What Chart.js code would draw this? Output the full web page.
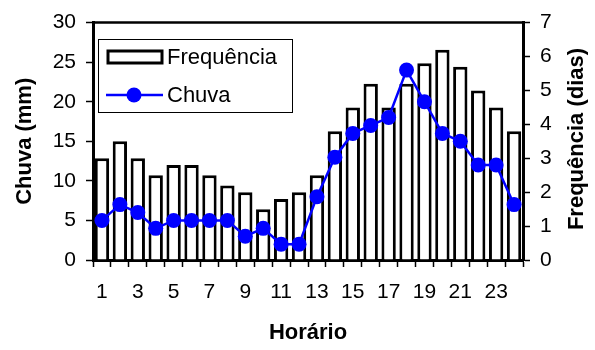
<!DOCTYPE html>
<html>
<head>
<meta charset="utf-8">
<script src="https://cdn.jsdelivr.net/npm/chart.js@4/dist/chart.umd.min.js"></script>
<style>
  body { margin: 0; background: #fff; }
  #wrap { width: 595px; height: 350px; }
</style>
</head>
<body>
<div id="wrap"><canvas id="chuvaChart"></canvas></div>
<script>
// dados
const horarios = ['1','2','3','4','5','6','7','8','9','10','11','12','13','14','15','16','17','18','19','20','21','22','23','24'];
const frequenciaDias = [3.0, 3.5, 3.0, 2.5, 2.8, 2.8, 2.5, 2.2, 2.0, 1.5, 1.8, 2.0, 2.5, 3.8, 4.5, 5.2, 4.5, 5.2, 5.8, 6.2, 5.7, 5.0, 4.5, 3.8];
const chuvaMm = [5, 7, 6, 4, 5, 5, 5, 5, 3, 4, 2, 2, 8, 13, 16, 17, 18, 24, 20, 16, 15, 12, 12, 7];

const FONT = "'Liberation Sans', Arial, sans-serif";
Chart.defaults.font.family = FONT;
Chart.defaults.font.size = 21;
Chart.defaults.color = '#000';

// moldura do gráfico, legenda e título do eixo direito
const framePlugin = {
    id: 'frame',
    afterDatasetsDraw(chart) {
        const { ctx, chartArea: a } = chart;
        ctx.save();
        ctx.strokeStyle = '#000';
        ctx.lineWidth = 2.5;
        ctx.beginPath();
        ctx.moveTo(a.left, a.top);
        ctx.lineTo(a.right, a.top);
        ctx.stroke();
        ctx.restore();
    },
    afterDraw(chart) {
        const { ctx } = chart;
        const bar = chart.data.datasets[0];
        const line = chart.data.datasets[1];
        ctx.save();
        // caixa da legenda
        ctx.fillStyle = '#fff';
        ctx.fillRect(98, 39, 194, 73);
        ctx.strokeStyle = '#000';
        ctx.lineWidth = 1;
        ctx.strokeRect(98.5, 39.5, 194, 73);

        ctx.lineWidth = 3;
        ctx.strokeStyle = bar.borderColor;
        ctx.fillStyle = bar.backgroundColor;
        ctx.fillRect(108, 51, 54, 12);
        ctx.strokeRect(108, 51, 54, 12);

        ctx.strokeStyle = line.borderColor;
        ctx.lineWidth = 2.5;
        ctx.beginPath();
        ctx.moveTo(106, 95);
        ctx.lineTo(163, 95);
        ctx.stroke();
        ctx.fillStyle = line.pointBackgroundColor;
        ctx.beginPath();
        ctx.arc(134, 95, 7.5, 0, Math.PI * 2);
        ctx.fill();

        ctx.fillStyle = '#000';
        ctx.font = '22px ' + FONT;
        ctx.textBaseline = 'middle';
        ctx.textAlign = 'left';
        ctx.fillText(bar.label, 167, 58);
        ctx.fillText(line.label, 167, 96);

        // título do eixo direito, lido de baixo para cima
        ctx.font = 'bold 22px ' + FONT;
        ctx.textAlign = 'center';
        ctx.translate(577, 139);
        ctx.rotate(-Math.PI / 2);
        ctx.fillText('Frequência (dias)', 0, 0);
        ctx.restore();
    }
};

const ctx = document.getElementById('chuvaChart').getContext('2d');
new Chart(ctx, {
    data: {
        labels: horarios,
        datasets: [{
            type: 'bar',
            label: 'Frequência',
            data: frequenciaDias,
            yAxisID: 'y1',
            backgroundColor: '#fff',
            borderColor: '#000',
            borderWidth: 3,
            barPercentage: 0.8,
            categoryPercentage: 1,
            order: 2
        }, {
            type: 'line',
            label: 'Chuva',
            data: chuvaMm,
            yAxisID: 'y',
            borderColor: '#0000ff',
            borderWidth: 2.5,
            pointBackgroundColor: '#0000ff',
            pointBorderColor: '#0000ff',
            pointRadius: 7.5,
            pointBorderWidth: 0,
            tension: 0,
            order: 1
        }]
    },
    options: {
        responsive: true,
        maintainAspectRatio: false,
        animation: false,
        layout: { padding: { top: 20, left: 0, right: 0, bottom: 0 } },
        plugins: {
            legend: { display: false },
            tooltip: { enabled: false }
        },
        scales: {
            x: {
                offset: true,
                grid: { offset: true, drawOnChartArea: false, drawTicks: true, tickLength: 7, tickColor: '#000', tickWidth: 1.5 },
                border: { display: true, color: '#000', width: 3 },
                ticks: {
                    autoSkip: false,
                    maxRotation: 0,
                    padding: 13,
                    callback: function(value, index) {
                        return index % 2 === 0 ? horarios[index] : '';
                    }
                },
                title: { display: true, text: 'Horário', font: { weight: 'bold', size: 22 }, padding: { top: 4, bottom: 4 } },
                afterFit: scale => { scale.height = 90; }
            },
            y: {
                position: 'left',
                min: 0,
                max: 30,
                grid: { drawOnChartArea: false, drawTicks: true, tickLength: 7, tickColor: '#000', tickWidth: 1.5 },
                border: { display: true, color: '#000', width: 3 },
                ticks: { stepSize: 5, padding: 10 },
                title: { display: true, text: 'Chuva (mm)', font: { weight: 'bold', size: 22 }, padding: { top: 12, bottom: 0 } },
                afterFit: scale => { scale.width = 93; }
            },
            y1: {
                position: 'right',
                min: 0,
                max: 7,
                grid: { drawOnChartArea: false, drawTicks: true, tickLength: 7, tickColor: '#000', tickWidth: 1.5 },
                border: { display: true, color: '#000', width: 3 },
                ticks: { stepSize: 1, padding: 10 },
                title: { display: false },
                afterFit: scale => { scale.width = 72; }
            }
        }
    },
    plugins: [framePlugin]
});
</script>
</body>
</html>
